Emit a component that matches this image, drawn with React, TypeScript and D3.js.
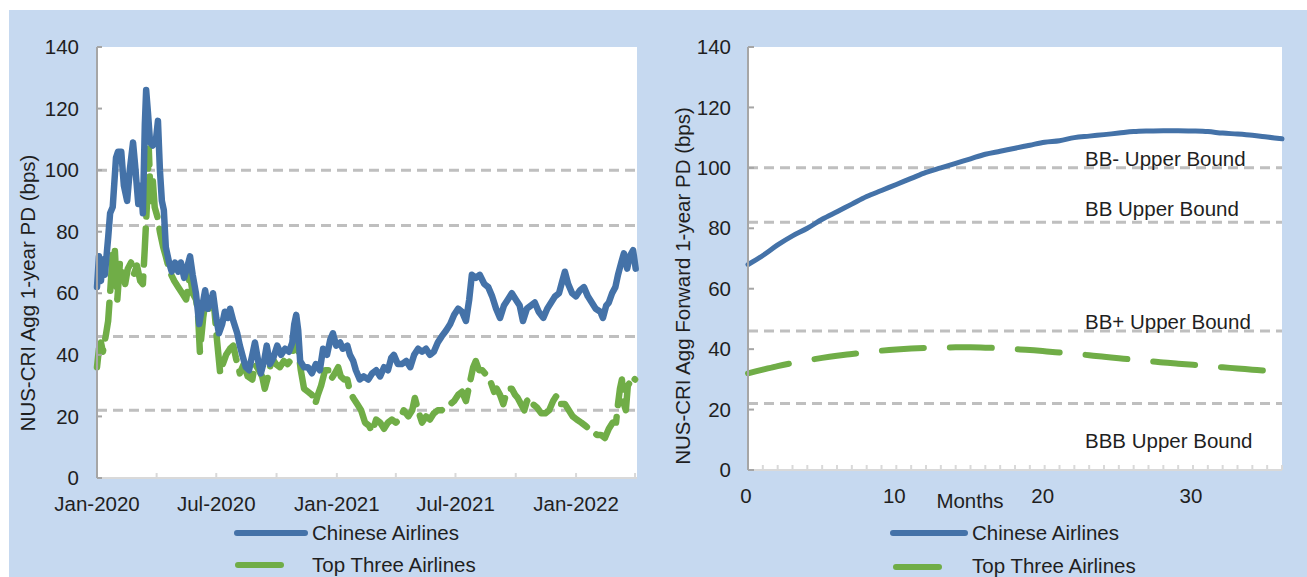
import React from 'react';
import * as d3 from 'd3';

// ---------- Left chart: NUS-CRI Agg 1-year PD (bps), daily-ish readings ----------
const chineseAirlines: [string, number][] = [
  ["2020-01-01",62],["2020-01-04",72],["2020-01-07",64],["2020-01-10",71],["2020-01-13",66],
  ["2020-01-18",78],["2020-01-21",86],["2020-01-25",88],["2020-01-30",104],["2020-02-02",106],
  ["2020-02-07",106],["2020-02-11",95],["2020-02-16",90],["2020-02-20",100],["2020-02-25",109],
  ["2020-02-28",102],["2020-03-04",89],["2020-03-08",95],["2020-03-11",86],["2020-03-14",115],
  ["2020-03-16",126],["2020-03-19",118],["2020-03-22",109],["2020-03-26",108],["2020-03-31",110],
  ["2020-04-03",116],["2020-04-06",100],["2020-04-09",90],["2020-04-12",87],["2020-04-15",75],
  ["2020-04-20",70],["2020-04-24",67],["2020-04-29",70],["2020-05-04",67],["2020-05-08",70],
  ["2020-05-13",65],["2020-05-17",68],["2020-05-22",72],["2020-05-26",66],["2020-05-31",60],
  ["2020-06-05",50],["2020-06-09",55],["2020-06-14",61],["2020-06-18",55],["2020-06-23",57],
  ["2020-06-26",60],["2020-07-01",52],["2020-07-05",47],["2020-07-10",50],["2020-07-14",54],
  ["2020-07-19",52],["2020-07-22",55],["2020-07-27",51],["2020-08-02",47],["2020-08-06",43],
  ["2020-08-11",39],["2020-08-15",36],["2020-08-20",35],["2020-08-25",40],["2020-08-29",44],
  ["2020-09-03",38],["2020-09-07",34],["2020-09-12",38],["2020-09-16",43],["2020-09-21",37],
  ["2020-09-26",39],["2020-10-02",43],["2020-10-08",40],["2020-10-14",42],["2020-10-20",41],
  ["2020-10-25",44],["2020-10-28",50],["2020-10-31",53],["2020-11-03",48],["2020-11-06",38],
  ["2020-11-12",36],["2020-11-18",36],["2020-11-24",34],["2020-11-30",37],["2020-12-06",35],
  ["2020-12-11",42],["2020-12-17",40],["2020-12-22",45],["2020-12-26",47],["2020-12-31",43],
  ["2021-01-06",44],["2021-01-10",42],["2021-01-17",43],["2021-01-21",40],["2021-01-26",38],
  ["2021-01-30",35],["2021-02-05",32],["2021-02-11",33],["2021-02-18",32],["2021-02-24",34],
  ["2021-03-02",35],["2021-03-08",33],["2021-03-14",36],["2021-03-20",35],["2021-03-25",39],
  ["2021-03-29",40],["2021-04-04",37],["2021-04-10",37],["2021-04-17",38],["2021-04-23",36],
  ["2021-04-29",40],["2021-05-05",42],["2021-05-11",41],["2021-05-17",42],["2021-05-23",40],
  ["2021-05-29",41],["2021-06-04",44],["2021-06-10",46],["2021-06-17",48],["2021-06-23",50],
  ["2021-06-29",53],["2021-07-05",55],["2021-07-11",54],["2021-07-17",51],["2021-07-22",58],
  ["2021-07-26",66],["2021-08-01",65],["2021-08-07",66],["2021-08-14",63],["2021-08-20",62],
  ["2021-08-26",59],["2021-09-01",55],["2021-09-07",52],["2021-09-13",56],["2021-09-19",58],
  ["2021-09-25",60],["2021-10-01",58],["2021-10-07",56],["2021-10-12",51],["2021-10-18",55],
  ["2021-10-24",56],["2021-10-30",57],["2021-11-05",54],["2021-11-12",52],["2021-11-18",55],
  ["2021-11-24",57],["2021-11-30",59],["2021-12-06",60],["2021-12-11",64],["2021-12-15",67],
  ["2021-12-20",63],["2021-12-26",60],["2022-01-01",59],["2022-01-07",61],["2022-01-13",62],
  ["2022-01-19",59],["2022-01-25",57],["2022-01-31",55],["2022-02-07",54],["2022-02-11",52],
  ["2022-02-16",56],["2022-02-20",57],["2022-02-25",60],["2022-03-02",62],["2022-03-06",66],
  ["2022-03-11",70],["2022-03-15",73],["2022-03-20",68],["2022-03-24",72],["2022-03-29",74],
  ["2022-04-02",68],
];

const topThreeAirlines: [string, number][] = [
  ["2020-01-01",36],["2020-01-04",42],["2020-01-07",44],["2020-01-10",41],["2020-01-15",47],
  ["2020-01-18",51],["2020-01-21",60],["2020-01-25",73],["2020-01-28",75],["2020-02-01",58],
  ["2020-02-05",70],["2020-02-10",66],["2020-02-13",63],["2020-02-17",68],["2020-02-22",70],
  ["2020-02-26",66],["2020-03-02",69],["2020-03-07",64],["2020-03-11",63],["2020-03-14",75],
  ["2020-03-17",88],["2020-03-20",107],["2020-03-23",90],["2020-03-26",97],["2020-03-29",88],
  ["2020-04-02",85],["2020-04-06",80],["2020-04-11",75],["2020-04-15",72],["2020-04-21",67],
  ["2020-04-28",64],["2020-05-04",62],["2020-05-10",60],["2020-05-16",58],["2020-05-22",66],
  ["2020-05-26",60],["2020-05-31",58],["2020-06-03",54],["2020-06-06",41],["2020-06-11",52],
  ["2020-06-15",58],["2020-06-20",55],["2020-06-23",58],["2020-06-28",55],["2020-07-02",45],
  ["2020-07-07",34],["2020-07-11",37],["2020-07-16",40],["2020-07-22",42],["2020-07-27",43],
  ["2020-07-31",39],["2020-08-06",34],["2020-08-12",37],["2020-08-18",33],["2020-08-25",32],
  ["2020-08-29",37],["2020-09-04",35],["2020-09-09",33],["2020-09-13",29],["2020-09-18",33],
  ["2020-09-24",39],["2020-09-30",37],["2020-10-06",36],["2020-10-12",38],["2020-10-18",37],
  ["2020-10-25",39],["2020-10-29",47],["2020-11-03",42],["2020-11-07",35],["2020-11-12",29],
  ["2020-11-18",28],["2020-11-24",27],["2020-11-29",24],["2020-12-03",27],["2020-12-08",30],
  ["2020-12-14",35],["2020-12-19",35],["2020-12-23",32],["2020-12-29",34],["2021-01-03",36],
  ["2021-01-07",33],["2021-01-12",32],["2021-01-17",32],["2021-01-21",28],["2021-01-26",26],
  ["2021-02-01",24],["2021-02-07",22],["2021-02-13",18],["2021-02-19",17],["2021-02-24",15],
  ["2021-03-02",19],["2021-03-08",18],["2021-03-14",16],["2021-03-20",18],["2021-03-26",19],
  ["2021-04-01",18],["2021-04-07",19],["2021-04-13",22],["2021-04-20",20],["2021-04-26",22],
  ["2021-04-30",26],["2021-05-05",22],["2021-05-11",18],["2021-05-17",20],["2021-05-23",19],
  ["2021-05-29",21],["2021-06-04",22],["2021-06-10",22],["2021-06-17",23],["2021-06-23",24],
  ["2021-06-29",25],["2021-07-05",27],["2021-07-11",28],["2021-07-17",25],["2021-07-23",31],
  ["2021-07-28",36],["2021-08-01",38],["2021-08-06",35],["2021-08-11",35],["2021-08-15",34],
  ["2021-08-20",33],["2021-08-24",31],["2021-08-29",28],["2021-09-02",29],["2021-09-07",27],
  ["2021-09-12",24],["2021-09-16",27],["2021-09-21",29],["2021-09-25",29],["2021-09-30",27],
  ["2021-10-04",26],["2021-10-09",24],["2021-10-14",22],["2021-10-18",25],["2021-10-23",26],
  ["2021-10-27",24],["2021-11-02",23],["2021-11-09",21],["2021-11-15",21],["2021-11-21",22],
  ["2021-11-27",25],["2021-12-03",27],["2021-12-09",24],["2021-12-15",24],["2021-12-21",22],
  ["2021-12-27",20],["2022-01-02",19],["2022-01-09",18],["2022-01-15",17],["2022-01-21",16],
  ["2022-01-27",15],["2022-02-02",14],["2022-02-08",14],["2022-02-14",13],["2022-02-20",16],
  ["2022-02-26",18],["2022-03-03",18],["2022-03-06",24],["2022-03-09",29],["2022-03-12",32],
  ["2022-03-15",24],["2022-03-18",22],["2022-03-21",30],["2022-03-24",31],["2022-03-27",33],
  ["2022-04-01",32],
];

// ---------- Right chart: NUS-CRI Agg Forward 1-year PD (bps) by month ----------
const months = [0,1,2,3,4,5,6,7,8,9,10,11,12,13,14,15,16,17,18,19,20,21,22,23,24,25,26,27,28,29,30,31,32,33,34,35,36];
const forwardChinese = [68,71,74.5,77.5,80,83,85.5,88,90.5,92.5,94.5,96.5,98.5,100,101.5,103,104.5,105.5,106.5,107.5,108.5,109,110,110.5,111,111.5,112,112.2,112.3,112.3,112.2,112,111.5,111.2,110.8,110.2,109.6];
const forwardTopThree = [32,33.2,34.4,35.4,36.3,37.1,37.8,38.4,39,39.5,39.9,40.2,40.4,40.5,40.6,40.6,40.5,40.3,40,39.7,39.3,38.9,38.4,38,37.5,37,36.5,36.1,35.6,35.2,34.8,34.4,34,33.6,33.2,32.8,32.5];

// ---------- Shared ----------
const yTicks = [0, 20, 40, 60, 80, 100, 120, 140];
const boundLevels = [100, 82, 46, 22];
const boundLabels = ["BB- Upper Bound", "BB Upper Bound", "BB+ Upper Bound", "BBB Upper Bound"];
const boundLabelAnchors = [100.6, 84, 46.6, 7.3];
const monthTickLabels = [0, 10, 20, 30];
const seriesNames = ["Chinese Airlines", "Top Three Airlines"];

const BLUE = '#4472a8';
const GREEN = '#70ad47';
const BG = '#c6d9f0';
const GRID = '#bfbfbf';
const TEXT = '#1f1f1f';
const FONT = '"Liberation Sans", Arial, sans-serif';
const FS = 20.5;

export default function App() {
  const parse = d3.timeParse('%Y-%m-%d');

  // left chart scales
  const lx = d3.scaleTime()
    .domain([parse('2020-01-01') as Date, parse('2022-04-04') as Date])
    .range([97, 637]);
  const ly = d3.scaleLinear().domain([0, 140]).range([478, 47]);

  // right chart scales
  const rx = d3.scaleLinear().domain([0, 36]).range([748, 1282]);
  const ry = d3.scaleLinear().domain([0, 140]).range([470, 47]);

  const lineL = d3.line<[string, number]>()
    .x(d => lx(parse(d[0]) as Date))
    .y(d => ly(d[1]));
  const lineR = d3.line<number>()
    .x((_, i) => rx(months[i]))
    .y(d => ry(d))
    .curve(d3.curveMonotoneX);

  const quarterTicks = d3.timeMonth.every(3)!.range(parse('2020-01-01') as Date, parse('2022-04-05') as Date);
  const fmt = d3.timeFormat('%b-%Y');
  const monthMinor = d3.range(0, 37, 1);

  const axisGray = '#a6a6a6';
  const xAxisGray = '#d9d9d9';

  return (
    <svg width={1307} height={577} style={{ position: 'absolute', left: 0, top: 0, display: 'block' }}
      fontFamily={FONT}>
      <rect x={0} y={0} width={1307} height={577} fill="#ffffff" />
      <rect x={9} y={10} width={1298} height={567} fill={BG} />

      {/* ---------------- LEFT CHART ---------------- */}
      <rect x={lx.range()[0]} y={ly(140)} width={lx.range()[1] - lx.range()[0]} height={ly(0) - ly(140)} fill="#fff" />
      {boundLevels.map(v => (
        <line key={'lg' + v} x1={lx.range()[0]} x2={lx.range()[1]} y1={ly(v)} y2={ly(v)}
          stroke={GRID} strokeWidth={3} strokeDasharray="10 6" />
      ))}
      {/* x axis */}
      <line x1={lx.range()[0]} x2={lx.range()[1]} y1={ly(0)} y2={ly(0)} stroke={xAxisGray} strokeWidth={2} />
      {quarterTicks.map((d, i) => (
        <line key={'lxt' + i} x1={lx(d)} x2={lx(d)} y1={ly(0)} y2={ly(0) - 5} stroke={xAxisGray} strokeWidth={2} />
      ))}
      {quarterTicks.filter(d => d.getMonth() % 6 === 0).map((d, i) => (
        <text key={'lxl' + i} x={lx(d)} y={511} textAnchor="middle" fontSize={FS} fill={TEXT}>{fmt(d)}</text>
      ))}
      {/* series */}
      <path d={lineL(topThreeAirlines) || ''} fill="none" stroke={GREEN} strokeWidth={6.5}
        strokeDasharray="36 12" strokeLinecap="round" strokeLinejoin="round" />
      <path d={lineL(chineseAirlines) || ''} fill="none" stroke={BLUE} strokeWidth={6.5}
        strokeLinejoin="round" strokeLinecap="round" />
      {/* y axis */}
      <line x1={lx.range()[0]} x2={lx.range()[0]} y1={ly(0)} y2={ly(140)} stroke={axisGray} strokeWidth={2} />
      {yTicks.map(v => (
        <g key={'lyt' + v}>
          <line x1={lx.range()[0]} x2={lx.range()[0] + 5} y1={ly(v)} y2={ly(v)} stroke={axisGray} strokeWidth={2} />
          <text x={79} y={ly(v)} dy="0.35em" textAnchor="end" fontSize={FS} fill={TEXT}>{v}</text>
        </g>
      ))}
      <text transform={`translate(35,${293}) rotate(-90)`} textAnchor="middle" fontSize={FS} fill={TEXT}>
        NUS-CRI Agg 1-year PD (bps)
      </text>
      {/* legend */}
      <line x1={237} x2={305} y1={533} y2={533} stroke={BLUE} strokeWidth={6} strokeLinecap="round" />
      <text x={312} y={533} dy="0.35em" fontSize={FS} fill={TEXT}>{seriesNames[0]}</text>
      <line x1={238} x2={281} y1={565} y2={565} stroke={GREEN} strokeWidth={6} strokeLinecap="round" />
      <text x={312} y={565} dy="0.35em" fontSize={FS} fill={TEXT}>{seriesNames[1]}</text>

      {/* ---------------- RIGHT CHART ---------------- */}
      <rect x={rx(0)} y={ry(140)} width={rx(36) - rx(0)} height={ry(0) - ry(140)} fill="#fff" />
      {boundLevels.map(v => (
        <line key={'rg' + v} x1={rx(0)} x2={rx(36)} y1={ry(v)} y2={ry(v)}
          stroke={GRID} strokeWidth={3} strokeDasharray="10 6" />
      ))}
      {boundLabels.map((t, i) => (
        <text key={'bl' + i} x={1085} y={ry(boundLabelAnchors[i])} fontSize={FS} fill={TEXT}>{t}</text>
      ))}
      <line x1={rx(0)} x2={rx(36)} y1={ry(0)} y2={ry(0)} stroke={xAxisGray} strokeWidth={2} />
      {monthMinor.map(m => (
        <line key={'rxt' + m} x1={rx(m)} x2={rx(m)} y1={ry(0)} y2={ry(0) - 5} stroke={xAxisGray} strokeWidth={2} />
      ))}
      {monthTickLabels.map(m => (
        <text key={'rxl' + m} x={rx(m) - 2} y={503} textAnchor="middle" fontSize={FS} fill={TEXT}>{m}</text>
      ))}
      <text x={970} y={508} textAnchor="middle" fontSize={FS} fill={TEXT}>Months</text>
      <path d={lineR(forwardTopThree) || ''} fill="none" stroke={GREEN} strokeWidth={6}
        strokeDasharray="42 26" strokeLinecap="round" />
      <path d={lineR(forwardChinese) || ''} fill="none" stroke={BLUE} strokeWidth={5}
        strokeLinecap="round" />
      <line x1={rx(0)} x2={rx(0)} y1={ry(0)} y2={ry(140)} stroke={axisGray} strokeWidth={2} />
      {yTicks.map(v => (
        <g key={'ryt' + v}>
          <line x1={rx(0)} x2={rx(0) + 6} y1={ry(v)} y2={ry(v)} stroke={axisGray} strokeWidth={2} />
          <text x={731} y={ry(v)} dy="0.35em" textAnchor="end" fontSize={FS} fill={TEXT}>{v}</text>
        </g>
      ))}
      <text transform={`translate(690,${286}) rotate(-90)`} textAnchor="middle" fontSize={FS} fill={TEXT}>
        NUS-CRI Agg Forward 1-year PD (bps)
      </text>
      <line x1={893} x2={965} y1={533} y2={533} stroke={BLUE} strokeWidth={6} strokeLinecap="round" />
      <text x={972} y={533} dy="0.35em" fontSize={FS} fill={TEXT}>{seriesNames[0]}</text>
      <line x1={896} x2={939} y1={567} y2={567} stroke={GREEN} strokeWidth={6} strokeLinecap="round" />
      <text x={972} y={566} dy="0.35em" fontSize={FS} fill={TEXT}>{seriesNames[1]}</text>
    </svg>
  );
}
